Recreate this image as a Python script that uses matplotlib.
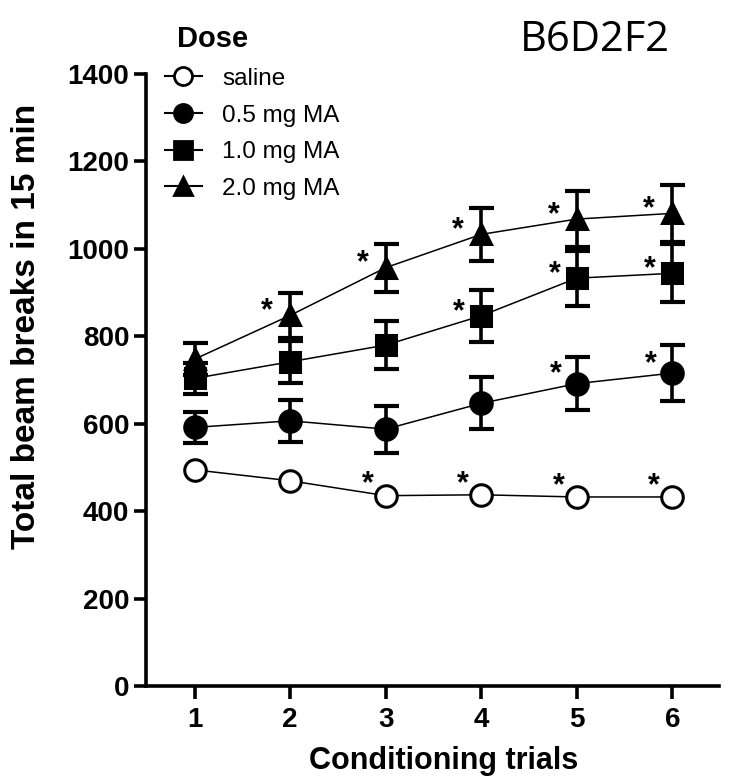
import matplotlib
matplotlib.use("Agg")
import matplotlib.pyplot as plt
from matplotlib.lines import Line2D

plt.rcParams['font.family'] = ['Liberation Sans', 'DejaVu Sans']

trials = [1, 2, 3, 4, 5, 6]
series_names = ["saline", "0.5 mg MA", "1.0 mg MA", "2.0 mg MA"]
saline = [495, 470, 436, 438, 433, 433]
saline_err = [0, 0, 0, 0, 0, 0]
ma05 = [592, 607, 588, 647, 692, 716]
ma05_err = [35, 48, 54, 59, 60, 64]
ma10 = [704, 742, 780, 847, 933, 944]
ma10_err = [36, 48, 55, 60, 63, 66]
ma20 = [748, 848, 957, 1033, 1068, 1081]
ma20_err = [36, 52, 55, 60, 63, 65]
sig_saline = [3, 4, 5, 6]
sig_05 = [5, 6]
sig_10 = [4, 5, 6]
sig_20 = [2, 3, 4, 5, 6]
y_ticks = [0, 200, 400, 600, 800, 1000, 1200, 1400]

fig = plt.figure(figsize=(7.30, 7.84), dpi=100)
ax = fig.add_axes([0.200, 0.1244, 0.785, 0.7815])

STAR_LIFT = 11  # px between baseline and centre of '*' glyph
series = [
    (saline, saline_err, 'o', 'white', sig_saline, (-18, 14)),
    (ma05, ma05_err, 'o', 'black', sig_05, (-21, 12)),
    (ma10, ma10_err, 's', 'black', sig_10, (-22, 7)),
    (ma20, ma20_err, '^', 'black', sig_20, (-23, 7)),
]
ms = {'o': 15.5, 's': 15.0, '^': 14.5}
for vals, errs, mk, fc, sig, off in series:
    if any(errs):
        ax.errorbar(trials, vals, yerr=errs, fmt='none', ecolor='black',
                    elinewidth=2.6, capsize=9, capthick=3.0, zorder=2)
    ax.plot(trials, vals, color='black', lw=1.1, marker=mk, ms=ms[mk],
            mfc=fc, mec='black', mew=2.2, zorder=3)
    for t in sig:
        ax.annotate('*', (t, vals[t - 1]), xytext=(off[0], off[1] - STAR_LIFT),
                    textcoords='offset pixels', ha='center', va='baseline',
                    fontsize=22, fontweight='bold', zorder=4)

ax.set_xlim(0.49, 6.49)
ax.set_ylim(0, 1400)
ax.set_xticks(trials)
ax.set_yticks(y_ticks)
for s in ['top', 'right']:
    ax.spines[s].set_visible(False)
for s in ['left', 'bottom']:
    ax.spines[s].set_linewidth(2.6)
ax.tick_params(axis='both', direction='out', length=9, width=2.6, labelsize=20, pad=3)
ax.tick_params(axis='x', pad=6)
for lab in ax.get_xticklabels() + ax.get_yticklabels():
    lab.set_fontweight('bold')
ax.set_xlabel('Conditioning trials', fontsize=22, fontweight='bold')
ax.set_ylabel('Total beam breaks in 15 min', fontsize=24, fontweight='bold')
ax.xaxis.set_label_coords(0.519, -0.0975)
ax.yaxis.set_label_coords(-0.182, 0.588)

handles = []
for name, (vals, errs, mk, fc, sig, off) in zip(series_names, series):
    handles.append(Line2D([0], [0], color='black', lw=1.5, marker=mk, ms=13,
                          mfc=fc, mec='black', mew=2))
leg = ax.legend(handles, series_names, loc='upper left',
                bbox_to_anchor=((165 - 146) / 573, (686.5 - 68) / 612.7),
                frameon=False, fontsize=17.5, handlelength=1.52, handletextpad=0.82,
                labelspacing=0.6, borderpad=0, borderaxespad=0)

fig.text(177 / 730, 1 - 39 / 784, 'Dose', fontsize=21, fontweight='bold',
         ha='left', va='center')
fig.text(595 / 730, 1 - 40 / 784, 'B6D2F2', fontsize=30,
         family=['Open Sans', 'DejaVu Sans'], ha='center', va='center')

fig.savefig('out.png', dpi=100)
